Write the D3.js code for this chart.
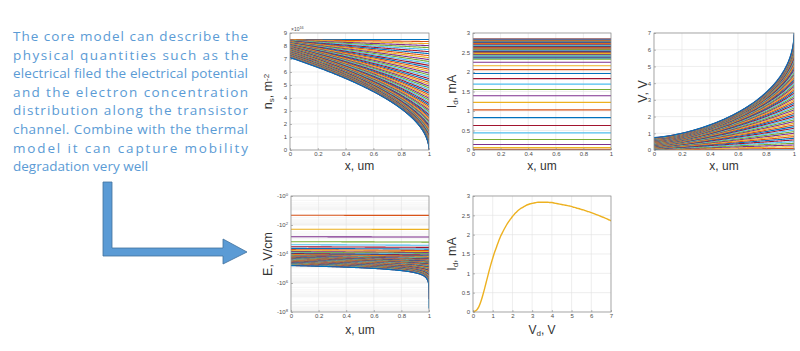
<!DOCTYPE html>
<html>
<head>
<meta charset="utf-8">
<script src="https://cdn.jsdelivr.net/npm/d3@7"></script>
<style>
  body { margin: 0; background: #fff; }
  svg { display: block; }
  text { font-family: "Liberation Sans", Arial, sans-serif; }
</style>
</head>
<body>
<div id="chart"></div>
<script>
// drain voltage sweep, V
const vdValues = [0.0,0.1,0.2,0.3,0.4,0.5,0.6,0.7,0.8,0.9,1.0,1.1,1.2,1.3,1.4,1.5,1.6,1.7,1.8,1.9,
  2.0,2.1,2.2,2.3,2.4,2.5,2.6,2.7,2.8,2.9,3.0,3.1,3.2,3.3,3.4,3.5,3.6,3.7,3.8,3.9,
  4.0,4.1,4.2,4.3,4.4,4.5,4.6,4.7,4.8,4.9,5.0,5.1,5.2,5.3,5.4,5.5,5.6,5.7,5.8,5.9,
  6.0,6.1,6.2,6.3,6.4,6.5,6.6,6.7,6.8,6.9,7.0];
// drain current, mA (one per Vd)
const idValues = [0.00,0.02,0.06,0.14,0.27,0.44,0.63,0.83,1.03,1.22,1.39,1.55,1.69,1.83,1.96,2.06,2.16,2.25,2.33,2.40,
  2.47,2.53,2.58,2.63,2.67,2.70,2.73,2.76,2.78,2.80,2.81,2.82,2.83,2.84,2.84,2.84,2.84,2.84,2.84,2.83,
  2.83,2.82,2.81,2.80,2.79,2.78,2.77,2.76,2.75,2.74,2.73,2.71,2.70,2.68,2.67,2.65,2.64,2.62,2.60,2.59,
  2.57,2.55,2.53,2.51,2.49,2.47,2.45,2.43,2.41,2.38,2.36];
// log10 |E| at the source end, V/cm (Vd = 0 has no field)
const eSourceLog = [null,1.33,2.29,2.81,3.15,3.36,3.50,3.61,3.70,3.77,3.83,3.88,3.93,3.97,4.01,4.04,4.07,4.10,4.13,4.15,
  4.17,4.19,4.20,4.21,4.22,4.24,4.25,4.26,4.27,4.29,4.30,4.31,4.32,4.34,4.35,4.36,4.37,4.39,4.40,4.41,
  4.42,4.44,4.45,4.46,4.47,4.49,4.50,4.51,4.52,4.54,4.55,4.56,4.57,4.59,4.60,4.61,4.62,4.64,4.65,4.66,
  4.67,4.69,4.70,4.71,4.72,4.74,4.75,4.76,4.77,4.79,4.80];

// values
const nsTop = 8.5;        // x1e16 m^-2, channel density with no drain bias
const nsSourceMin = 7.1;  // density at source for the highest Vd
const vSourceMax = 0.75;  // potential at source for the highest Vd

const xTicks = [0, 0.2, 0.4, 0.6, 0.8, 1];
const nsTicks = [0, 1, 2, 3, 4, 5, 6, 7, 8, 9];
const idTicks = [0, 0.5, 1, 1.5, 2, 2.5, 3];
const vTicks = [0, 1, 2, 3, 4, 5, 6, 7];
const eTickExps = [0, 2, 4, 6, 8];
const vdTicks = [0, 1, 2, 3, 4, 5, 6, 7];

const introLines = [
  "The core model can describe the",
  "physical quantities such as the",
  "electrical filed the electrical potential",
  "and the electron concentration",
  "distribution along the transistor",
  "channel. Combine with the thermal",
  "model it can capture mobility",
  "degradation very well"
];

const lineColors = ["#0072BD", "#D95319", "#EDB120", "#7E2F8E", "#77AC30", "#4DBEEE", "#A2142F"];

const svg = d3.select("#chart").append("svg").attr("width", 800).attr("height", 351);

// ---- text block
svg.append("g").selectAll("text")
  .data(introLines)
  .join("text")
  .attr("x", 13)
  .attr("y", (d, i) => 41 + i * 18.6)
  .attr("fill", "#5b9bd5")
  .style("font-family", "'Open Sans', sans-serif")
  .style("font-size", "13.5px")
  .each(function (d, i) {
    if (i < introLines.length - 1) d3.select(this).attr("textLength", 235).attr("lengthAdjust", "spacing");
  })
  .text(d => d);

// ---- arrow
svg.append("path")
  .attr("d", "M103,182 L112,182 L112,248 L223,248 L223,239 L247,252 L223,264 L223,256 L103,256 Z")
  .attr("fill", "#5b9bd5")
  .attr("stroke", "#41719c")
  .attr("stroke-width", 0.8);

// ---- channel profiles for every Vd
const xs = d3.range(0, 0.99, 0.01).concat(d3.range(0.99, 1, 0.0005), [1]);
const curves = vdValues.map((vd, k) => {
  const t = vd / 7;
  const nsS = nsTop - (nsTop - nsSourceMin) * t;
  const nsD = nsTop * Math.pow(1 - t, 1.3);
  const pts = xs.map(x => {
    const ns = Math.sqrt(nsS * nsS * (1 - x) + nsD * nsD * x);
    const u = nsS - nsD > 1e-9 ? (nsS - ns) / (nsS - nsD) : x;
    const vs = vSourceMax * t;
    const v = vs + (vd - vs) * Math.pow(u, 1 + 0.42 * t);
    const e = eSourceLog[k] == null ? null : Math.min(Math.pow(10, eSourceLog[k]) * nsS / Math.max(ns, 1e-9), Math.pow(10, 7.75));
    return { x, ns, v, e };
  });
  return { k, vd, id: idValues[k], pts };
});

// ---- panel helper, MATLAB-like axes
let clipCount = 0;
function makePanel(p) {
  const x = d3.scaleLinear().domain(p.xDomain).range([p.left, p.right]);
  const y = p.yLog
    ? d3.scaleLog().domain(p.yDomain).range([p.top, p.bottom])
    : d3.scaleLinear().domain(p.yDomain).range([p.bottom, p.top]);
  const g = svg.append("g");
  const gridG = g.append("g");
  const clipId = "clip" + (clipCount++);
  g.append("clipPath").attr("id", clipId).append("rect")
    .attr("x", p.left).attr("y", p.top).attr("width", p.right - p.left).attr("height", p.bottom - p.top);
  const plotG = g.append("g").attr("clip-path", `url(#${clipId})`);
  const frameG = g.append("g");

  if (p.minorY) {
    gridG.selectAll(".my").data(p.minorY).join("line")
      .attr("x1", p.left).attr("x2", p.right)
      .attr("y1", d => y(d)).attr("y2", d => y(d))
      .attr("stroke", "#ededed").attr("stroke-width", 0.5);
  }
  gridG.selectAll(".gx").data(p.xTicks).join("line")
    .attr("x1", d => x(d)).attr("x2", d => x(d))
    .attr("y1", p.top).attr("y2", p.bottom)
    .attr("stroke", "#e2e2e2").attr("stroke-width", 0.6);
  gridG.selectAll(".gy").data(p.yTicks).join("line")
    .attr("x1", p.left).attr("x2", p.right)
    .attr("y1", d => y(d)).attr("y2", d => y(d))
    .attr("stroke", "#e2e2e2").attr("stroke-width", 0.6);

  frameG.append("rect")
    .attr("x", p.left).attr("y", p.top)
    .attr("width", p.right - p.left).attr("height", p.bottom - p.top)
    .attr("fill", "none").attr("stroke", "#8c8c8c").attr("stroke-width", 0.7);

  const xAxis = frameG.append("g").attr("transform", `translate(0,${p.bottom})`)
    .call(d3.axisBottom(x).tickValues(p.xTicks).tickSizeInner(-2).tickSizeOuter(0).tickPadding(2)
      .tickFormat(p.xFmt || d3.format("")));
  const yAxis = frameG.append("g").attr("transform", `translate(${p.left},0)`)
    .call(d3.axisLeft(y).tickValues(p.yTicks).tickSizeInner(-2).tickSizeOuter(0).tickPadding(3)
      .tickFormat(p.yFmt || d3.format("")));
  [xAxis, yAxis].forEach(a => {
    a.select(".domain").remove();
    a.selectAll("line").attr("stroke", "#8c8c8c").attr("stroke-width", 0.6);
    a.selectAll("text").attr("fill", "#4d4d4d").style("font-size", "6px");
  });
  return { x, y, plotG, frameG, xAxis, yAxis };
}

function axisLabel(sel, parts) {
  parts.forEach(([txt, kind]) => {
    const ts = sel.append("tspan").text(txt);
    if (kind === "sub") ts.attr("baseline-shift", "-25%").style("font-size", "8px");
    if (kind === "sup") ts.attr("baseline-shift", "40%").style("font-size", "8px");
  });
}
function xLabel(cx, by, parts) {
  const t = svg.append("text").attr("x", cx).attr("y", by).attr("text-anchor", "middle")
    .attr("fill", "#333").style("font-size", "12px");
  axisLabel(t, parts);
}
function yLabel(bx, cy, parts) {
  const t = svg.append("text").attr("transform", `translate(${bx},${cy}) rotate(-90)`)
    .attr("text-anchor", "middle").attr("fill", "#333").style("font-size", "12.5px");
  axisLabel(t, parts);
}

const lineW = 1.1;

// ---- panel 1: ns(x)
const p1 = makePanel({ left: 290, right: 429, top: 33, bottom: 150, xDomain: [0, 1], yDomain: [0, 9], xTicks, yTicks: nsTicks });
p1.plotG.selectAll("path").data(curves).join("path")
  .attr("d", c => d3.line().x(d => p1.x(d.x)).y(d => p1.y(d.ns))(c.pts))
  .attr("fill", "none").attr("stroke", c => lineColors[c.k % 7]).attr("stroke-width", lineW);
const mult = svg.append("text").attr("x", 291).attr("y", 31).attr("fill", "#4d4d4d").style("font-size", "5px");
mult.append("tspan").text("\u00d710");
mult.append("tspan").attr("baseline-shift", "40%").style("font-size", "3.8px").text("16");
xLabel(359.5, 169.5, [["x, um"]]);
yLabel(272, 91.5, [["n"], ["s", "sub"], [", m"], ["-2", "sup"]]);

// ---- panel 2: Id(x)
const p2 = makePanel({ left: 473, right: 611, top: 33, bottom: 150, xDomain: [0, 1], yDomain: [0, 3], xTicks, yTicks: idTicks });
p2.plotG.selectAll("path").data(curves).join("path")
  .attr("d", c => d3.line().x(d => p2.x(d)).y(() => p2.y(c.id))([0, 1]))
  .attr("fill", "none").attr("stroke", c => lineColors[c.k % 7]).attr("stroke-width", lineW);
xLabel(542, 169.5, [["x, um"]]);
yLabel(456, 91.5, [["I"], ["d", "sub"], [", mA"]]);

// ---- panel 3: V(x)
const p3 = makePanel({ left: 654, right: 794, top: 33, bottom: 150, xDomain: [0, 1], yDomain: [0, 7], xTicks, yTicks: vTicks });
p3.plotG.selectAll("path").data(curves).join("path")
  .attr("d", c => d3.line().x(d => p3.x(d.x)).y(d => p3.y(d.v))(c.pts))
  .attr("fill", "none").attr("stroke", c => lineColors[c.k % 7]).attr("stroke-width", lineW);
xLabel(724, 169.5, [["x, um"]]);
yLabel(647, 91.5, [["V, V"]]);

// ---- panel 4: E(x), log scale of |E|
const minorE = [];
for (let e = 0; e < 8; e++) for (let m = 2; m <= 9; m++) minorE.push(m * Math.pow(10, e));
const p4 = makePanel({
  left: 291, right: 429, top: 196, bottom: 312, xDomain: [0, 1], yDomain: [1, 1e8], yLog: true,
  xTicks, yTicks: eTickExps.map(e => Math.pow(10, e)), minorY: minorE, yFmt: () => ""
});
p4.yAxis.selectAll(".tick text").each(function (d) {
  const t = d3.select(this);
  t.append("tspan").text("-10");
  t.append("tspan").attr("baseline-shift", "45%").style("font-size", "4.2px").text(Math.round(Math.log10(d)));
});
p4.plotG.selectAll("path").data(curves.filter(c => eSourceLog[c.k] != null)).join("path")
  .attr("d", c => d3.line().x(d => p4.x(d.x)).y(d => p4.y(d.e))(c.pts))
  .attr("fill", "none").attr("stroke", c => lineColors[c.k % 7]).attr("stroke-width", lineW);
xLabel(360, 334, [["x, um"]]);
yLabel(272, 254, [["E, V/cm"]]);

// ---- panel 5: Id(Vd)
const p5 = makePanel({ left: 473, right: 611, top: 196, bottom: 312, xDomain: [0, 7], yDomain: [0, 3], xTicks: vdTicks, yTicks: idTicks });
p5.plotG.append("path")
  .datum(vdValues.map((v, i) => [v, idValues[i]]))
  .attr("d", d3.line().x(d => p5.x(d[0])).y(d => p5.y(d[1])).curve(d3.curveMonotoneX))
  .attr("fill", "none").attr("stroke", "#EDB120").attr("stroke-width", 1.4);
xLabel(542, 334, [["V"], ["d", "sub"], [", V"]]);
yLabel(456, 254, [["I"], ["d", "sub"], [", mA"]]);
</script>
</body>
</html>
